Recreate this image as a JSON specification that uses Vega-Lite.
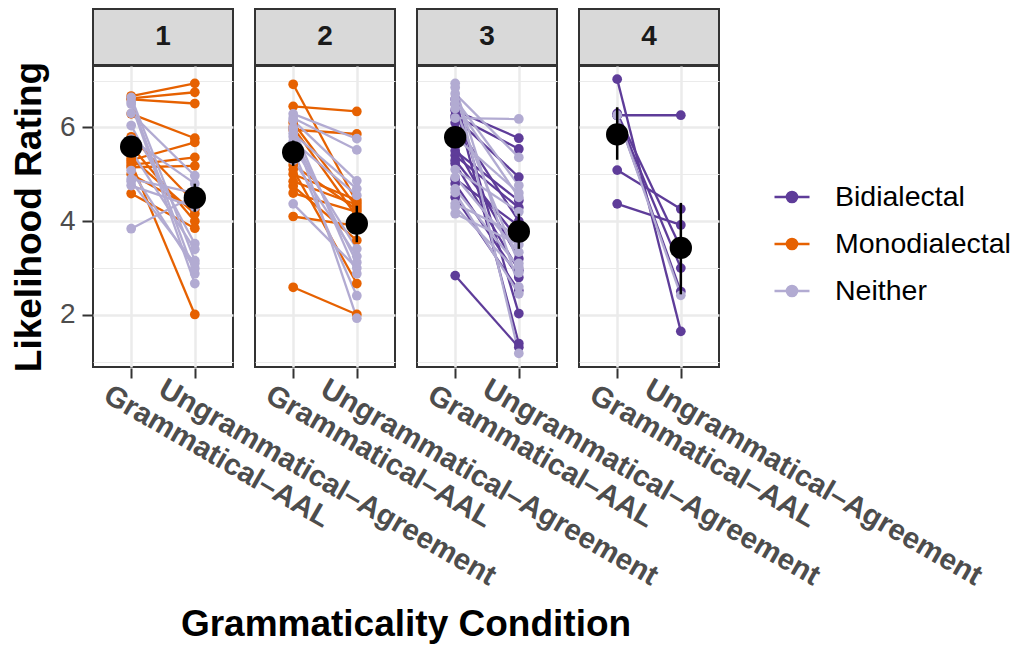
{
  "$schema": "https://vega.github.io/schema/vega-lite/v6.json",
  "background": "white",
  "padding": {"left": 10, "top": 8, "right": 5, "bottom": 2},
  "config": {
    "font": "Liberation Sans",
    "view": {"stroke": null}
  },
  "datasets": {
    "strips": [{"panel": "1"}, {"panel": "2"}, {"panel": "3"}, {"panel": "4"}],
    "ratings": [
      {"kind": "p", "panel": "1", "id": "1M1", "group": "Monodialectal", "cond": "Grammatical–AAL", "rating": 6.67},
      {"kind": "p", "panel": "1", "id": "1M1", "group": "Monodialectal", "cond": "Ungrammatical–Agreement", "rating": 6.94},
      {"kind": "p", "panel": "1", "id": "1M2", "group": "Monodialectal", "cond": "Grammatical–AAL", "rating": 6.62},
      {"kind": "p", "panel": "1", "id": "1M2", "group": "Monodialectal", "cond": "Ungrammatical–Agreement", "rating": 6.75},
      {"kind": "p", "panel": "1", "id": "1M3", "group": "Monodialectal", "cond": "Grammatical–AAL", "rating": 6.60},
      {"kind": "p", "panel": "1", "id": "1M3", "group": "Monodialectal", "cond": "Ungrammatical–Agreement", "rating": 6.51},
      {"kind": "p", "panel": "1", "id": "1M4", "group": "Monodialectal", "cond": "Grammatical–AAL", "rating": 6.29},
      {"kind": "p", "panel": "1", "id": "1M4", "group": "Monodialectal", "cond": "Ungrammatical–Agreement", "rating": 5.77},
      {"kind": "p", "panel": "1", "id": "1M5", "group": "Monodialectal", "cond": "Grammatical–AAL", "rating": 5.30},
      {"kind": "p", "panel": "1", "id": "1M5", "group": "Monodialectal", "cond": "Ungrammatical–Agreement", "rating": 5.68},
      {"kind": "p", "panel": "1", "id": "1M6", "group": "Monodialectal", "cond": "Grammatical–AAL", "rating": 5.20},
      {"kind": "p", "panel": "1", "id": "1M6", "group": "Monodialectal", "cond": "Ungrammatical–Agreement", "rating": 5.36},
      {"kind": "p", "panel": "1", "id": "1M7", "group": "Monodialectal", "cond": "Grammatical–AAL", "rating": 5.15},
      {"kind": "p", "panel": "1", "id": "1M7", "group": "Monodialectal", "cond": "Ungrammatical–Agreement", "rating": 5.18},
      {"kind": "p", "panel": "1", "id": "1M8", "group": "Monodialectal", "cond": "Grammatical–AAL", "rating": 5.35},
      {"kind": "p", "panel": "1", "id": "1M8", "group": "Monodialectal", "cond": "Ungrammatical–Agreement", "rating": 4.16},
      {"kind": "p", "panel": "1", "id": "1M9", "group": "Monodialectal", "cond": "Grammatical–AAL", "rating": 5.60},
      {"kind": "p", "panel": "1", "id": "1M9", "group": "Monodialectal", "cond": "Ungrammatical–Agreement", "rating": 4.00},
      {"kind": "p", "panel": "1", "id": "1M10", "group": "Monodialectal", "cond": "Grammatical–AAL", "rating": 4.59},
      {"kind": "p", "panel": "1", "id": "1M10", "group": "Monodialectal", "cond": "Ungrammatical–Agreement", "rating": 3.85},
      {"kind": "p", "panel": "1", "id": "1M11", "group": "Monodialectal", "cond": "Grammatical–AAL", "rating": 5.25},
      {"kind": "p", "panel": "1", "id": "1M11", "group": "Monodialectal", "cond": "Ungrammatical–Agreement", "rating": 2.01},
      {"kind": "p", "panel": "1", "id": "1M12", "group": "Monodialectal", "cond": "Grammatical–AAL", "rating": 5.80},
      {"kind": "p", "panel": "1", "id": "1M12", "group": "Monodialectal", "cond": "Ungrammatical–Agreement", "rating": 4.40},
      {"kind": "p", "panel": "1", "id": "1M13", "group": "Monodialectal", "cond": "Grammatical–AAL", "rating": 5.00},
      {"kind": "p", "panel": "1", "id": "1M13", "group": "Monodialectal", "cond": "Ungrammatical–Agreement", "rating": 4.25},
      {"kind": "p", "panel": "1", "id": "1N1", "group": "Neither", "cond": "Grammatical–AAL", "rating": 6.64},
      {"kind": "p", "panel": "1", "id": "1N1", "group": "Neither", "cond": "Ungrammatical–Agreement", "rating": 3.16},
      {"kind": "p", "panel": "1", "id": "1N2", "group": "Neither", "cond": "Grammatical–AAL", "rating": 6.55},
      {"kind": "p", "panel": "1", "id": "1N2", "group": "Neither", "cond": "Ungrammatical–Agreement", "rating": 2.88},
      {"kind": "p", "panel": "1", "id": "1N3", "group": "Neither", "cond": "Grammatical–AAL", "rating": 6.50},
      {"kind": "p", "panel": "1", "id": "1N3", "group": "Neither", "cond": "Ungrammatical–Agreement", "rating": 2.67},
      {"kind": "p", "panel": "1", "id": "1N4", "group": "Neither", "cond": "Grammatical–AAL", "rating": 6.04},
      {"kind": "p", "panel": "1", "id": "1N4", "group": "Neither", "cond": "Ungrammatical–Agreement", "rating": 3.52},
      {"kind": "p", "panel": "1", "id": "1N5", "group": "Neither", "cond": "Grammatical–AAL", "rating": 6.30},
      {"kind": "p", "panel": "1", "id": "1N5", "group": "Neither", "cond": "Ungrammatical–Agreement", "rating": 4.97},
      {"kind": "p", "panel": "1", "id": "1N6", "group": "Neither", "cond": "Grammatical–AAL", "rating": 5.08},
      {"kind": "p", "panel": "1", "id": "1N6", "group": "Neither", "cond": "Ungrammatical–Agreement", "rating": 2.99},
      {"kind": "p", "panel": "1", "id": "1N7", "group": "Neither", "cond": "Grammatical–AAL", "rating": 4.90},
      {"kind": "p", "panel": "1", "id": "1N7", "group": "Neither", "cond": "Ungrammatical–Agreement", "rating": 4.60},
      {"kind": "p", "panel": "1", "id": "1N8", "group": "Neither", "cond": "Grammatical–AAL", "rating": 4.76},
      {"kind": "p", "panel": "1", "id": "1N8", "group": "Neither", "cond": "Ungrammatical–Agreement", "rating": 4.30},
      {"kind": "p", "panel": "1", "id": "1N9", "group": "Neither", "cond": "Grammatical–AAL", "rating": 3.84},
      {"kind": "p", "panel": "1", "id": "1N9", "group": "Neither", "cond": "Ungrammatical–Agreement", "rating": 4.55},
      {"kind": "p", "panel": "1", "id": "1N10", "group": "Neither", "cond": "Grammatical–AAL", "rating": 5.50},
      {"kind": "p", "panel": "1", "id": "1N10", "group": "Neither", "cond": "Ungrammatical–Agreement", "rating": 3.40},
      {"kind": "p", "panel": "1", "id": "1N11", "group": "Neither", "cond": "Grammatical–AAL", "rating": 5.75},
      {"kind": "p", "panel": "1", "id": "1N11", "group": "Neither", "cond": "Ungrammatical–Agreement", "rating": 4.80},
      {"kind": "p", "panel": "1", "id": "1N12", "group": "Neither", "cond": "Grammatical–AAL", "rating": 4.85},
      {"kind": "p", "panel": "1", "id": "1N12", "group": "Neither", "cond": "Ungrammatical–Agreement", "rating": 3.10},
      {"kind": "p", "panel": "2", "id": "2M1", "group": "Monodialectal", "cond": "Grammatical–AAL", "rating": 6.92},
      {"kind": "p", "panel": "2", "id": "2M1", "group": "Monodialectal", "cond": "Ungrammatical–Agreement", "rating": 4.40},
      {"kind": "p", "panel": "2", "id": "2M2", "group": "Monodialectal", "cond": "Grammatical–AAL", "rating": 6.45},
      {"kind": "p", "panel": "2", "id": "2M2", "group": "Monodialectal", "cond": "Ungrammatical–Agreement", "rating": 6.34},
      {"kind": "p", "panel": "2", "id": "2M3", "group": "Monodialectal", "cond": "Grammatical–AAL", "rating": 5.95},
      {"kind": "p", "panel": "2", "id": "2M3", "group": "Monodialectal", "cond": "Ungrammatical–Agreement", "rating": 5.86},
      {"kind": "p", "panel": "2", "id": "2M4", "group": "Monodialectal", "cond": "Grammatical–AAL", "rating": 6.10},
      {"kind": "p", "panel": "2", "id": "2M4", "group": "Monodialectal", "cond": "Ungrammatical–Agreement", "rating": 4.30},
      {"kind": "p", "panel": "2", "id": "2M5", "group": "Monodialectal", "cond": "Grammatical–AAL", "rating": 5.20},
      {"kind": "p", "panel": "2", "id": "2M5", "group": "Monodialectal", "cond": "Ungrammatical–Agreement", "rating": 4.25},
      {"kind": "p", "panel": "2", "id": "2M6", "group": "Monodialectal", "cond": "Grammatical–AAL", "rating": 5.00},
      {"kind": "p", "panel": "2", "id": "2M6", "group": "Monodialectal", "cond": "Ungrammatical–Agreement", "rating": 4.45},
      {"kind": "p", "panel": "2", "id": "2M7", "group": "Monodialectal", "cond": "Grammatical–AAL", "rating": 4.75},
      {"kind": "p", "panel": "2", "id": "2M7", "group": "Monodialectal", "cond": "Ungrammatical–Agreement", "rating": 3.59},
      {"kind": "p", "panel": "2", "id": "2M8", "group": "Monodialectal", "cond": "Grammatical–AAL", "rating": 4.60},
      {"kind": "p", "panel": "2", "id": "2M8", "group": "Monodialectal", "cond": "Ungrammatical–Agreement", "rating": 4.20},
      {"kind": "p", "panel": "2", "id": "2M9", "group": "Monodialectal", "cond": "Grammatical–AAL", "rating": 4.10},
      {"kind": "p", "panel": "2", "id": "2M9", "group": "Monodialectal", "cond": "Ungrammatical–Agreement", "rating": 3.90},
      {"kind": "p", "panel": "2", "id": "2M10", "group": "Monodialectal", "cond": "Grammatical–AAL", "rating": 2.59},
      {"kind": "p", "panel": "2", "id": "2M10", "group": "Monodialectal", "cond": "Ungrammatical–Agreement", "rating": 2.01},
      {"kind": "p", "panel": "2", "id": "2M11", "group": "Monodialectal", "cond": "Grammatical–AAL", "rating": 5.10},
      {"kind": "p", "panel": "2", "id": "2M11", "group": "Monodialectal", "cond": "Ungrammatical–Agreement", "rating": 2.67},
      {"kind": "p", "panel": "2", "id": "2M12", "group": "Monodialectal", "cond": "Grammatical–AAL", "rating": 4.85},
      {"kind": "p", "panel": "2", "id": "2M12", "group": "Monodialectal", "cond": "Ungrammatical–Agreement", "rating": 4.35},
      {"kind": "p", "panel": "2", "id": "2M13", "group": "Monodialectal", "cond": "Grammatical–AAL", "rating": 6.00},
      {"kind": "p", "panel": "2", "id": "2M13", "group": "Monodialectal", "cond": "Ungrammatical–Agreement", "rating": 4.10},
      {"kind": "p", "panel": "2", "id": "2N1", "group": "Neither", "cond": "Grammatical–AAL", "rating": 6.29},
      {"kind": "p", "panel": "2", "id": "2N1", "group": "Neither", "cond": "Ungrammatical–Agreement", "rating": 5.76},
      {"kind": "p", "panel": "2", "id": "2N2", "group": "Neither", "cond": "Grammatical–AAL", "rating": 6.20},
      {"kind": "p", "panel": "2", "id": "2N2", "group": "Neither", "cond": "Ungrammatical–Agreement", "rating": 5.52},
      {"kind": "p", "panel": "2", "id": "2N3", "group": "Neither", "cond": "Grammatical–AAL", "rating": 6.15},
      {"kind": "p", "panel": "2", "id": "2N3", "group": "Neither", "cond": "Ungrammatical–Agreement", "rating": 4.86},
      {"kind": "p", "panel": "2", "id": "2N4", "group": "Neither", "cond": "Grammatical–AAL", "rating": 5.87},
      {"kind": "p", "panel": "2", "id": "2N4", "group": "Neither", "cond": "Ungrammatical–Agreement", "rating": 4.69},
      {"kind": "p", "panel": "2", "id": "2N5", "group": "Neither", "cond": "Grammatical–AAL", "rating": 5.60},
      {"kind": "p", "panel": "2", "id": "2N5", "group": "Neither", "cond": "Ungrammatical–Agreement", "rating": 3.41},
      {"kind": "p", "panel": "2", "id": "2N6", "group": "Neither", "cond": "Grammatical–AAL", "rating": 5.80},
      {"kind": "p", "panel": "2", "id": "2N6", "group": "Neither", "cond": "Ungrammatical–Agreement", "rating": 3.12},
      {"kind": "p", "panel": "2", "id": "2N7", "group": "Neither", "cond": "Grammatical–AAL", "rating": 6.00},
      {"kind": "p", "panel": "2", "id": "2N7", "group": "Neither", "cond": "Ungrammatical–Agreement", "rating": 2.88},
      {"kind": "p", "panel": "2", "id": "2N8", "group": "Neither", "cond": "Grammatical–AAL", "rating": 5.50},
      {"kind": "p", "panel": "2", "id": "2N8", "group": "Neither", "cond": "Ungrammatical–Agreement", "rating": 2.41},
      {"kind": "p", "panel": "2", "id": "2N9", "group": "Neither", "cond": "Grammatical–AAL", "rating": 5.95},
      {"kind": "p", "panel": "2", "id": "2N9", "group": "Neither", "cond": "Ungrammatical–Agreement", "rating": 1.93},
      {"kind": "p", "panel": "2", "id": "2N10", "group": "Neither", "cond": "Grammatical–AAL", "rating": 4.37},
      {"kind": "p", "panel": "2", "id": "2N10", "group": "Neither", "cond": "Ungrammatical–Agreement", "rating": 3.00},
      {"kind": "p", "panel": "2", "id": "2N11", "group": "Neither", "cond": "Grammatical–AAL", "rating": 5.30},
      {"kind": "p", "panel": "2", "id": "2N11", "group": "Neither", "cond": "Ungrammatical–Agreement", "rating": 3.25},
      {"kind": "p", "panel": "2", "id": "2N12", "group": "Neither", "cond": "Grammatical–AAL", "rating": 5.70},
      {"kind": "p", "panel": "2", "id": "2N12", "group": "Neither", "cond": "Ungrammatical–Agreement", "rating": 4.55},
      {"kind": "p", "panel": "3", "id": "3B1", "group": "Bidialectal", "cond": "Grammatical–AAL", "rating": 6.36},
      {"kind": "p", "panel": "3", "id": "3B1", "group": "Bidialectal", "cond": "Ungrammatical–Agreement", "rating": 5.77},
      {"kind": "p", "panel": "3", "id": "3B2", "group": "Bidialectal", "cond": "Grammatical–AAL", "rating": 6.25},
      {"kind": "p", "panel": "3", "id": "3B2", "group": "Bidialectal", "cond": "Ungrammatical–Agreement", "rating": 5.54},
      {"kind": "p", "panel": "3", "id": "3B3", "group": "Bidialectal", "cond": "Grammatical–AAL", "rating": 6.21},
      {"kind": "p", "panel": "3", "id": "3B3", "group": "Bidialectal", "cond": "Ungrammatical–Agreement", "rating": 4.94},
      {"kind": "p", "panel": "3", "id": "3B4", "group": "Bidialectal", "cond": "Grammatical–AAL", "rating": 6.50},
      {"kind": "p", "panel": "3", "id": "3B4", "group": "Bidialectal", "cond": "Ungrammatical–Agreement", "rating": 1.39},
      {"kind": "p", "panel": "3", "id": "3B5", "group": "Bidialectal", "cond": "Grammatical–AAL", "rating": 5.50},
      {"kind": "p", "panel": "3", "id": "3B5", "group": "Bidialectal", "cond": "Ungrammatical–Agreement", "rating": 4.44},
      {"kind": "p", "panel": "3", "id": "3B6", "group": "Bidialectal", "cond": "Grammatical–AAL", "rating": 5.40},
      {"kind": "p", "panel": "3", "id": "3B6", "group": "Bidialectal", "cond": "Ungrammatical–Agreement", "rating": 4.29},
      {"kind": "p", "panel": "3", "id": "3B7", "group": "Bidialectal", "cond": "Grammatical–AAL", "rating": 5.23},
      {"kind": "p", "panel": "3", "id": "3B7", "group": "Bidialectal", "cond": "Ungrammatical–Agreement", "rating": 2.95},
      {"kind": "p", "panel": "3", "id": "3B8", "group": "Bidialectal", "cond": "Grammatical–AAL", "rating": 4.80},
      {"kind": "p", "panel": "3", "id": "3B8", "group": "Bidialectal", "cond": "Ungrammatical–Agreement", "rating": 2.80},
      {"kind": "p", "panel": "3", "id": "3B9", "group": "Bidialectal", "cond": "Grammatical–AAL", "rating": 4.51},
      {"kind": "p", "panel": "3", "id": "3B9", "group": "Bidialectal", "cond": "Ungrammatical–Agreement", "rating": 2.52},
      {"kind": "p", "panel": "3", "id": "3B10", "group": "Bidialectal", "cond": "Grammatical–AAL", "rating": 2.84},
      {"kind": "p", "panel": "3", "id": "3B10", "group": "Bidialectal", "cond": "Ungrammatical–Agreement", "rating": 1.31},
      {"kind": "p", "panel": "3", "id": "3B11", "group": "Bidialectal", "cond": "Grammatical–AAL", "rating": 6.60},
      {"kind": "p", "panel": "3", "id": "3B11", "group": "Bidialectal", "cond": "Ungrammatical–Agreement", "rating": 2.03},
      {"kind": "p", "panel": "3", "id": "3B12", "group": "Bidialectal", "cond": "Grammatical–AAL", "rating": 5.30},
      {"kind": "p", "panel": "3", "id": "3B12", "group": "Bidialectal", "cond": "Ungrammatical–Agreement", "rating": 3.60},
      {"kind": "p", "panel": "3", "id": "3B13", "group": "Bidialectal", "cond": "Grammatical–AAL", "rating": 6.10},
      {"kind": "p", "panel": "3", "id": "3B13", "group": "Bidialectal", "cond": "Ungrammatical–Agreement", "rating": 4.00},
      {"kind": "p", "panel": "3", "id": "3B14", "group": "Bidialectal", "cond": "Grammatical–AAL", "rating": 5.60},
      {"kind": "p", "panel": "3", "id": "3B14", "group": "Bidialectal", "cond": "Ungrammatical–Agreement", "rating": 3.20},
      {"kind": "p", "panel": "3", "id": "3B15", "group": "Bidialectal", "cond": "Grammatical–AAL", "rating": 4.90},
      {"kind": "p", "panel": "3", "id": "3B15", "group": "Bidialectal", "cond": "Ungrammatical–Agreement", "rating": 3.90},
      {"kind": "p", "panel": "3", "id": "3N1", "group": "Neither", "cond": "Grammatical–AAL", "rating": 6.20},
      {"kind": "p", "panel": "3", "id": "3N1", "group": "Neither", "cond": "Ungrammatical–Agreement", "rating": 6.18},
      {"kind": "p", "panel": "3", "id": "3N2", "group": "Neither", "cond": "Grammatical–AAL", "rating": 6.94},
      {"kind": "p", "panel": "3", "id": "3N2", "group": "Neither", "cond": "Ungrammatical–Agreement", "rating": 1.18},
      {"kind": "p", "panel": "3", "id": "3N3", "group": "Neither", "cond": "Grammatical–AAL", "rating": 6.72},
      {"kind": "p", "panel": "3", "id": "3N3", "group": "Neither", "cond": "Ungrammatical–Agreement", "rating": 5.36},
      {"kind": "p", "panel": "3", "id": "3N4", "group": "Neither", "cond": "Grammatical–AAL", "rating": 6.60},
      {"kind": "p", "panel": "3", "id": "3N4", "group": "Neither", "cond": "Ungrammatical–Agreement", "rating": 4.76},
      {"kind": "p", "panel": "3", "id": "3N5", "group": "Neither", "cond": "Grammatical–AAL", "rating": 6.50},
      {"kind": "p", "panel": "3", "id": "3N5", "group": "Neither", "cond": "Ungrammatical–Agreement", "rating": 4.51},
      {"kind": "p", "panel": "3", "id": "3N6", "group": "Neither", "cond": "Grammatical–AAL", "rating": 4.94},
      {"kind": "p", "panel": "3", "id": "3N6", "group": "Neither", "cond": "Ungrammatical–Agreement", "rating": 3.34},
      {"kind": "p", "panel": "3", "id": "3N7", "group": "Neither", "cond": "Grammatical–AAL", "rating": 4.69},
      {"kind": "p", "panel": "3", "id": "3N7", "group": "Neither", "cond": "Ungrammatical–Agreement", "rating": 3.02},
      {"kind": "p", "panel": "3", "id": "3N8", "group": "Neither", "cond": "Grammatical–AAL", "rating": 4.61},
      {"kind": "p", "panel": "3", "id": "3N8", "group": "Neither", "cond": "Ungrammatical–Agreement", "rating": 2.45},
      {"kind": "p", "panel": "3", "id": "3N9", "group": "Neither", "cond": "Grammatical–AAL", "rating": 4.37},
      {"kind": "p", "panel": "3", "id": "3N9", "group": "Neither", "cond": "Ungrammatical–Agreement", "rating": 3.70},
      {"kind": "p", "panel": "3", "id": "3N10", "group": "Neither", "cond": "Grammatical–AAL", "rating": 4.16},
      {"kind": "p", "panel": "3", "id": "3N10", "group": "Neither", "cond": "Ungrammatical–Agreement", "rating": 3.50},
      {"kind": "p", "panel": "3", "id": "3N11", "group": "Neither", "cond": "Grammatical–AAL", "rating": 6.85},
      {"kind": "p", "panel": "3", "id": "3N11", "group": "Neither", "cond": "Ungrammatical–Agreement", "rating": 2.60},
      {"kind": "p", "panel": "3", "id": "3N12", "group": "Neither", "cond": "Grammatical–AAL", "rating": 5.80},
      {"kind": "p", "panel": "3", "id": "3N12", "group": "Neither", "cond": "Ungrammatical–Agreement", "rating": 4.60},
      {"kind": "p", "panel": "3", "id": "3N13", "group": "Neither", "cond": "Grammatical–AAL", "rating": 6.40},
      {"kind": "p", "panel": "3", "id": "3N13", "group": "Neither", "cond": "Ungrammatical–Agreement", "rating": 3.10},
      {"kind": "p", "panel": "3", "id": "3N14", "group": "Neither", "cond": "Grammatical–AAL", "rating": 4.30},
      {"kind": "p", "panel": "3", "id": "3N14", "group": "Neither", "cond": "Ungrammatical–Agreement", "rating": 2.90},
      {"kind": "p", "panel": "3", "id": "3N15", "group": "Neither", "cond": "Grammatical–AAL", "rating": 5.10},
      {"kind": "p", "panel": "3", "id": "3N15", "group": "Neither", "cond": "Ungrammatical–Agreement", "rating": 4.20},
      {"kind": "p", "panel": "4", "id": "4B1", "group": "Bidialectal", "cond": "Grammatical–AAL", "rating": 7.03},
      {"kind": "p", "panel": "4", "id": "4B1", "group": "Bidialectal", "cond": "Ungrammatical–Agreement", "rating": 1.65},
      {"kind": "p", "panel": "4", "id": "4B2", "group": "Bidialectal", "cond": "Grammatical–AAL", "rating": 6.26},
      {"kind": "p", "panel": "4", "id": "4B2", "group": "Bidialectal", "cond": "Ungrammatical–Agreement", "rating": 6.26},
      {"kind": "p", "panel": "4", "id": "4B3", "group": "Bidialectal", "cond": "Grammatical–AAL", "rating": 5.09},
      {"kind": "p", "panel": "4", "id": "4B3", "group": "Bidialectal", "cond": "Ungrammatical–Agreement", "rating": 4.26},
      {"kind": "p", "panel": "4", "id": "4B4", "group": "Bidialectal", "cond": "Grammatical–AAL", "rating": 4.37},
      {"kind": "p", "panel": "4", "id": "4B4", "group": "Bidialectal", "cond": "Ungrammatical–Agreement", "rating": 3.92},
      {"kind": "p", "panel": "4", "id": "4B5", "group": "Bidialectal", "cond": "Grammatical–AAL", "rating": 6.26},
      {"kind": "p", "panel": "4", "id": "4B5", "group": "Bidialectal", "cond": "Ungrammatical–Agreement", "rating": 3.00},
      {"kind": "p", "panel": "4", "id": "4B6", "group": "Bidialectal", "cond": "Grammatical–AAL", "rating": 6.26},
      {"kind": "p", "panel": "4", "id": "4B6", "group": "Bidialectal", "cond": "Ungrammatical–Agreement", "rating": 2.50},
      {"kind": "p", "panel": "4", "id": "4B7", "group": "Bidialectal", "cond": "Grammatical–AAL", "rating": 6.30},
      {"kind": "p", "panel": "4", "id": "4B7", "group": "Bidialectal", "cond": "Ungrammatical–Agreement", "rating": 3.43},
      {"kind": "p", "panel": "4", "id": "4N1", "group": "Neither", "cond": "Grammatical–AAL", "rating": 6.26},
      {"kind": "p", "panel": "4", "id": "4N1", "group": "Neither", "cond": "Ungrammatical–Agreement", "rating": 2.42},
      {"kind": "m", "panel": "1", "cond": "Grammatical–AAL", "rating": 5.59, "lo": 5.40, "hi": 5.78},
      {"kind": "m", "panel": "1", "cond": "Ungrammatical–Agreement", "rating": 4.50, "lo": 4.20, "hi": 4.80},
      {"kind": "m", "panel": "2", "cond": "Grammatical–AAL", "rating": 5.47, "lo": 5.18, "hi": 5.72},
      {"kind": "m", "panel": "2", "cond": "Ungrammatical–Agreement", "rating": 3.95, "lo": 3.55, "hi": 4.33},
      {"kind": "m", "panel": "3", "cond": "Grammatical–AAL", "rating": 5.79, "lo": 5.58, "hi": 6.00},
      {"kind": "m", "panel": "3", "cond": "Ungrammatical–Agreement", "rating": 3.78, "lo": 3.41, "hi": 4.16},
      {"kind": "m", "panel": "4", "cond": "Grammatical–AAL", "rating": 5.85, "lo": 5.31, "hi": 6.43},
      {"kind": "m", "panel": "4", "cond": "Ungrammatical–Agreement", "rating": 3.43, "lo": 2.44, "hi": 4.39}
    ]
  },
  "spacing": -5,
  "vconcat": [
    {
      "data": {"name": "strips"},
      "facet": {"column": {"field": "panel", "type": "nominal", "header": {"labels": false, "title": null}}},
      "spacing": 20,
      "spec": {
        "width": 140,
        "height": 56,
        "view": {"fill": "#d9d9d9", "stroke": "#333333", "strokeWidth": 2},
        "mark": {"type": "text", "fontSize": 28, "fontWeight": "bold", "color": "#1a1a1a"},
        "encoding": {"text": {"field": "panel", "type": "nominal"}}
      }
    },
    {
      "data": {"name": "ratings"},
      "facet": {
        "column": {
          "field": "panel", "type": "nominal",
          "header": {"labels": false, "title": "Grammaticality Condition", "titleOrient": "bottom", "titleFontSize": 37, "titleFontWeight": "bold", "titleColor": "black", "titlePadding": 6}
        }
      },
      "spacing": 20,
      "spec": {
        "width": 140,
        "height": 301,
        "view": {"fill": "white", "stroke": "#333333", "strokeWidth": 2},
        "encoding": {
          "x": {
            "field": "cond", "type": "nominal",
            "scale": {"type": "point", "padding": 0.6, "domain": ["Grammatical–AAL", "Ungrammatical–Agreement"]},
            "axis": {
              "title": null,
              "labelAngle": 30, "labelAlign": "left", "labelBaseline": "top",
              "labelFontSize": 29.5, "labelFontWeight": "bold", "labelColor": "#4d4d4d",
              "labelLimit": 0,
              "labelOffset": {"condition": {"test": "datum.value === 'Grammatical–AAL'", "value": -18.5}, "value": -27}, 
              "labelPadding": {"condition": {"test": "datum.value === 'Grammatical–AAL'", "value": 2}, "value": -4},
              "tickColor": "#333333", "tickSize": 10, "tickWidth": 2,
              "domain": false,
              "grid": true, "gridColor": "#ebebeb", "gridWidth": 2.5
            }
          },
          "y": {
            "field": "rating", "type": "quantitative", "title": "Likelihood Rating",
            "scale": {"domain": [0.89, 7.31], "nice": false, "zero": false},
            "axis": {
              "titleFontSize": 37, "titleFontWeight": "bold", "titleColor": "black", "titlePadding": 11,
              "values": [1, 2, 3, 4, 5, 6, 7],
              "labelExpr": "datum.value % 2 === 0 ? datum.label : ''",
              "labelFontSize": 28, "labelColor": "#4d4d4d", "labelPadding": 7,
              "tickColor": {"condition": {"test": "datum.value % 2 === 0", "value": "#333333"}, "value": "transparent"},
              "tickSize": 10, "tickWidth": 2,
              "domain": false,
              "grid": true, "gridColor": "#ebebeb",
              "gridWidth": {"condition": {"test": "datum.value % 2 === 0", "value": 2.5}, "value": 1.2}
            }
          }
        },
        "layer": [
          {
            "transform": [{"filter": "datum.kind === 'p'"}],
            "mark": {"type": "line", "strokeWidth": 2.3},
            "encoding": {
              "color": {
                "field": "group", "type": "nominal",
                "scale": {"domain": ["Bidialectal", "Monodialectal", "Neither"], "range": ["#5e3c99", "#e66101", "#b2abd2"]},
                "legend": {
                  "title": null, "orient": "none", "legendX": 680, "legendY": 169,
                  "symbolType": "M-1,0H1M-0.29,0A0.29,0.29,0,1,1,0.29,0A0.29,0.29,0,1,1,-0.29,0Z",
                  "symbolSize": 1225, "symbolStrokeWidth": 2.5,
                  "labelFontSize": 28.5, "labelColor": "black", "labelOffset": 24, "labelLimit": 0,
                  "rowPadding": 13,
                  "encode": {"symbols": {"update": {"fill": {"scale": "color", "field": "value"}, "stroke": {"scale": "color", "field": "value"}, "opacity": {"value": 1}}}}
                }
              },
              "detail": {"field": "id", "type": "nominal"}
            }
          },
          {
            "transform": [{"filter": "datum.kind === 'p'"}],
            "mark": {"type": "point", "filled": true, "size": 95, "opacity": 1},
            "encoding": {
              "color": {"field": "group", "type": "nominal"}
            }
          },
          {
            "transform": [{"filter": "datum.kind === 'm'"}],
            "mark": {"type": "rule", "strokeWidth": 2.5, "color": "black"},
            "encoding": {
              "y": {"field": "lo", "type": "quantitative", "title": "Likelihood Rating"},
              "y2": {"field": "hi"}
            }
          },
          {
            "transform": [{"filter": "datum.kind === 'm'"}],
            "mark": {"type": "point", "filled": true, "size": 500, "color": "black", "opacity": 1}
          }
        ]
      }
    }
  ]
}
